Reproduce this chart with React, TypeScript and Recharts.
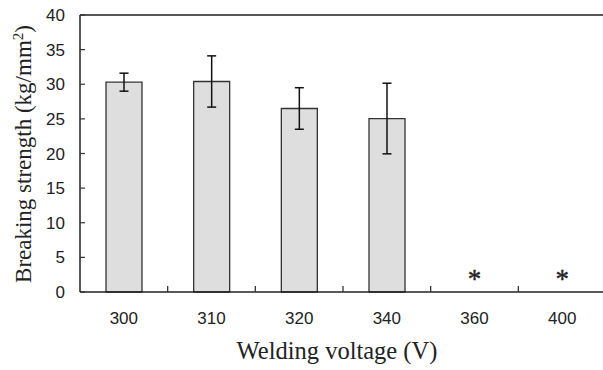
import React from 'react';
import { BarChart, Bar, XAxis, YAxis, ErrorBar, ReferenceLine } from 'recharts';

const voltages = ['300', '310', '320', '340', '360', '400'];
const strength = [30.3, 30.4, 26.5, 25.05, 0, 0];
const errors = [1.3, 3.7, 3.0, 5.1, 0, 0];
// samples that broke during welding are marked with an asterisk
const notes = ['', '', '', '', '*', '*'];
const yTicks = [0, 5, 10, 15, 20, 25, 30, 35, 40];

const data = voltages.map((v, i) => ({
  voltage: v,
  strength: strength[i],
  err: errors[i] ? errors[i] : undefined,
  note: notes[i],
}));

const sans = '"Liberation Sans", Arial, sans-serif';
const serif = '"Liberation Serif", "Times New Roman", serif';

const VoltageTick = (props: any) => {
  const { x, y, payload, index } = props;
  const half = payload && payload.offset ? payload.offset : 43.8;
  const note = notes[index];
  return (
    <g>
      {index > 0 && (
        <line x1={x - half} x2={x - half} y1={y} y2={y - 6} stroke="#333" strokeWidth={1.3} />
      )}
      {note && (
        <text x={x} y={y - 4} textAnchor="middle" fontSize={27} fontFamily={serif} fill="#222" stroke="#222" strokeWidth={0.4}>
          {note}
        </text>
      )}
      <text x={x} y={y + 32} textAnchor="middle" fontSize={17} fontFamily={sans} fill="#222">
        {payload.value}
      </text>
    </g>
  );
};

const App: React.FC = () => {
  return (
    <div style={{ position: 'absolute', left: 0, top: 0, width: 603, height: 370, overflow: 'hidden', background: '#fff' }}>
      <BarChart width={610} height={370} data={data} margin={{ top: 15, right: 4, left: 0, bottom: 0 }}>
        <XAxis
          dataKey="voltage"
          height={78}
          tickSize={0}
          tickMargin={0}
          tickLine={false}
          axisLine={{ stroke: '#222', strokeWidth: 1.5 }}
          tick={<VoltageTick />}
          interval={0}
        />
        <YAxis
          width={80}
          domain={[0, 40]}
          ticks={yTicks}
          interval={0}
          tickSize={-5}
          tickMargin={20}
          axisLine={{ stroke: '#222', strokeWidth: 1.5 }}
          tickLine={{ stroke: '#333', strokeWidth: 1.2 }}
          tick={{ fill: '#222', fontSize: 17, fontFamily: sans }}
        />
        <ReferenceLine y={40} stroke="#555" strokeWidth={2} />
        <Bar dataKey="strength" barSize={36} fill="#dedede" stroke="#333" strokeWidth={1.3} isAnimationActive={false}>
          <ErrorBar dataKey="err" width={4.5} stroke="#111" strokeWidth={1.5} direction="y" />
        </Bar>
        <text x={337} y={359} textAnchor="middle" fontSize={24.5} fontFamily={serif} fill="#222">
          Welding voltage (V)
        </text>
        <text
          x={31}
          y={154}
          transform="rotate(-90, 31, 154)"
          textAnchor="middle"
          fontSize={23}
          fontFamily={serif}
          fill="#222"
        >
          Breaking strength (kg/mm<tspan dy={-8} fontSize={15}>2</tspan><tspan dy={8}>)</tspan>
        </text>
      </BarChart>
    </div>
  );
};

export default App;
